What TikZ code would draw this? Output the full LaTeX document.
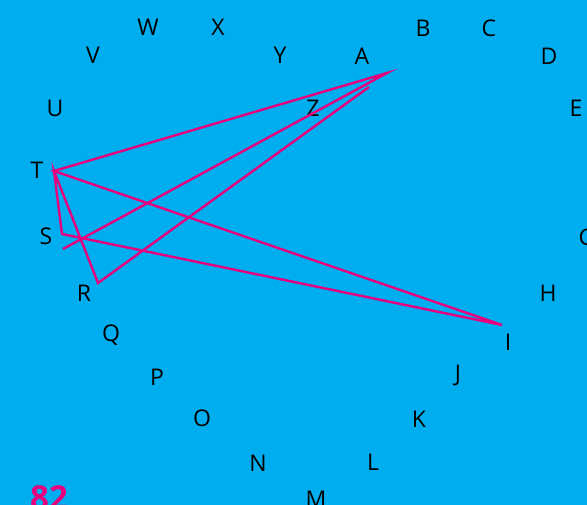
\documentclass[tikz,border=0pt]{standalone}
\usepackage{fontspec}
\setmainfont{Open Sans}
\usetikzlibrary{calc}
\definecolor{skyblue}{HTML}{00ADEE}
\definecolor{pinkline}{HTML}{E6007E}

\begin{document}
\begin{tikzpicture}[x=1pt, y=-1pt,
	letter/.style={font=\fontsize{23}{23}\selectfont, inner sep=0pt, text=black},
	trail/.style={pinkline, line width=2.4pt}]
	\useasboundingbox (0,0) rectangle (587,505);
	\clip (0,0) rectangle (587,505);
	\fill[skyblue] (0,0) rectangle (587,505);
	% the letters round the ring
	\foreach \n/\x/\y in {A/362/56, B/423/28, C/489/28, D/549/56, E/576/108,
		G/587/237, H/548/293, I/508/342, J/458/375, K/419/419, L/373/462,
		M/316/499, N/258/463, O/202/418, P/157/377, Q/111/335, R/84/293,
		S/46/236, T/37/170, U/55/108, V/93/55, W/148/27, X/218/27,
		Y/280/55, Z/313/108}
		\node[letter] (\n) at (\x,\y) {\n};
	% corners of the traced path
	\coordinate (p0) at (63,249);
	\coordinate (pA) at (387,73);
	\coordinate (pT) at (54,171);
	\coordinate (pI) at (502,325);
	\coordinate (pS) at (62,234);
	\coordinate (pR) at (98,283);
	\coordinate (pZ) at (369,87);
	\draw[trail] (p0) -- (pA) -- (pT) -- (pI) -- (pS) -- (pT) -- (pR) -- (pZ);
	\node[anchor=north west, inner sep=0pt, text=pinkline,
		font=\fontsize{33}{33}\selectfont\bfseries] (num) at (30,485) {82};
\end{tikzpicture}
\end{document}
